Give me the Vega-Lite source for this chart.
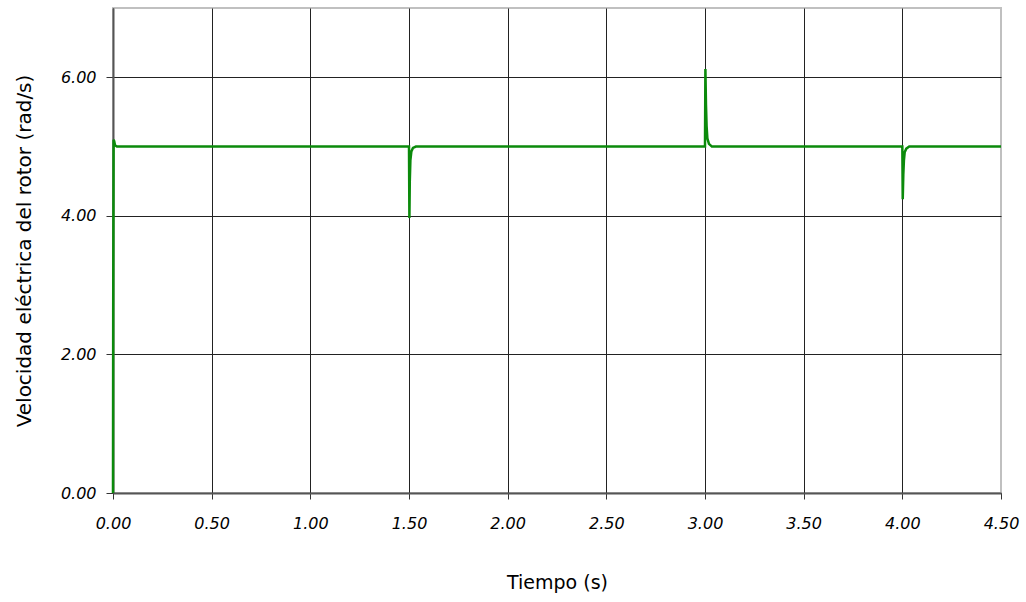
{
  "$schema": "https://vega.github.io/schema/vega-lite/v6.json",
  "autosize": {"type": "none"},
  "padding": {"left": 113, "top": 8, "right": 25, "bottom": 109},
  "width": 888,
  "height": 485,
  "background": "white",
  "config": {
    "view": {"stroke": "#c0c0c0", "strokeWidth": 2},
    "font": "DejaVu Sans"
  },
  "data": {
    "values": [
      {"t": 0.0, "w": 0.0},
      {"t": 0.001, "w": 2.6},
      {"t": 0.003, "w": 5.1},
      {"t": 0.006, "w": 5.08},
      {"t": 0.01, "w": 5.02},
      {"t": 0.02, "w": 5.0},
      {"t": 1.5, "w": 5.0},
      {"t": 1.502, "w": 3.97},
      {"t": 1.504, "w": 4.5},
      {"t": 1.507, "w": 4.8},
      {"t": 1.512, "w": 4.93},
      {"t": 1.52, "w": 4.98},
      {"t": 1.535, "w": 5.0},
      {"t": 3.0, "w": 5.0},
      {"t": 3.002, "w": 6.12},
      {"t": 3.005, "w": 5.6},
      {"t": 3.008, "w": 5.3},
      {"t": 3.012, "w": 5.12},
      {"t": 3.02, "w": 5.04},
      {"t": 3.035, "w": 5.0},
      {"t": 4.0, "w": 5.0},
      {"t": 4.002, "w": 4.24},
      {"t": 4.005, "w": 4.6},
      {"t": 4.008, "w": 4.8},
      {"t": 4.012, "w": 4.92},
      {"t": 4.02, "w": 4.97},
      {"t": 4.035, "w": 5.0},
      {"t": 4.5, "w": 5.0}
    ]
  },
  "mark": {"type": "line", "color": "#0b8a0b", "strokeWidth": 2.5, "interpolate": "linear"},
  "encoding": {
    "x": {
      "field": "t",
      "type": "quantitative",
      "scale": {"domain": [0, 4.5], "nice": false, "zero": false},
      "axis": {
        "title": "Tiempo (s)",
        "values": [0, 0.5, 1, 1.5, 2, 2.5, 3, 3.5, 4, 4.5],
        "format": ".2f",
        "labelFlush": false,
        "labelOverlap": false,
        "labelFontStyle": "italic",
        "labelFontSize": 16,
        "labelColor": "#000",
        "labelPadding": 16,
        "titleFontSize": 19,
        "titleFontWeight": "normal",
        "titleColor": "#000",
        "titlePadding": 42,
        "domainColor": "#555",
        "domainWidth": 2,
        "tickColor": "#333",
        "tickSize": 6,
        "grid": true,
        "gridColor": {"condition": {"test": "datum.value == 4.5", "value": "#c0c0c0"}, "value": "#222"},
        "gridWidth": 1
      }
    },
    "y": {
      "field": "w",
      "type": "quantitative",
      "scale": {"domain": [0, 7], "nice": false},
      "axis": {
        "title": "Velocidad eléctrica del rotor (rad/s)",
        "values": [0, 2, 4, 6],
        "format": ".2f",
        "labelFlush": false,
        "labelFontStyle": "italic",
        "labelFontSize": 16,
        "labelColor": "#000",
        "labelPadding": 10,
        "titleFontSize": 20,
        "titleFontWeight": "normal",
        "titleColor": "#000",
        "titlePadding": 26,
        "domainColor": "#555",
        "domainWidth": 2,
        "tickColor": "#333",
        "tickSize": 7,
        "grid": true,
        "gridColor": "#222",
        "gridWidth": 1
      }
    }
  }
}
